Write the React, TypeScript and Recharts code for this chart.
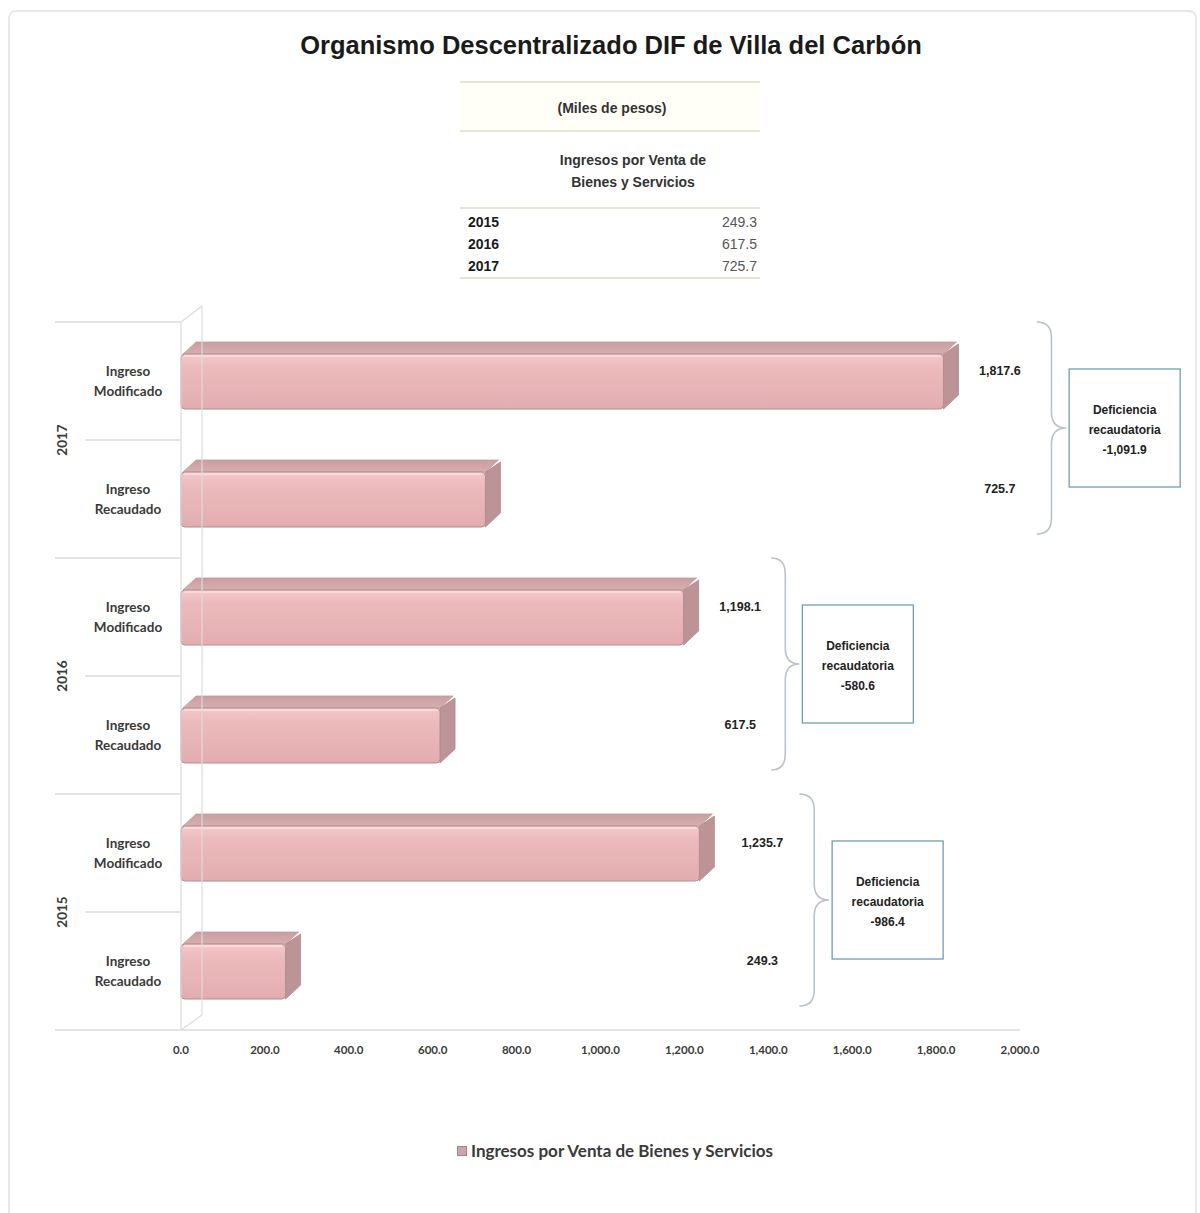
import { BarChart, Bar, XAxis, YAxis, LabelList, ReferenceArea, Legend } from "recharts";

// chart values
const CATEGORIES = ["2017-M", "2017-R", "2016-M", "2016-R", "2015-M", "2015-R"];
const YEARS = ["2017", "2017", "2016", "2016", "2015", "2015"];
const KINDS = ["Modificado", "Recaudado", "Modificado", "Recaudado", "Modificado", "Recaudado"];
const VALUES = [1817.6, 725.7, 1198.1, 617.5, 1235.7, 249.3];
// where each value label sits, in axis units
const LABEL_AT = [1952, 1952, 1333, 1333, 1386, 1386];

const GROUP_FIRST = ["2017-M", "2016-M", "2015-M"];
const GROUP_LAST = ["2017-R", "2016-R", "2015-R"];
const DEFICIENCIA = [-1091.9, -580.6, -986.4];
const BRACE_FROM = [2040, 1407, 1474];
const BRACE_TO = [2110, 1474, 1545];

const TABLE_YEARS = ["2015", "2016", "2017"];
const TABLE_VALUES = [249.3, 617.5, 725.7];

const X_TICKS = [0, 200, 400, 600, 800, 1000, 1200, 1400, 1600, 1800, 2000];

const SERIES_NAME = "Ingresos por Venta de Bienes y Servicios";

const data = CATEGORIES.map((key, i) => ({ key, year: YEARS[i], kind: KINDS[i], value: VALUES[i] }));

const W = 1200;
const H = 1213;
const PLOT_LEFT = 181;
const DEPTH_X = 15;
const DEPTH_Y = 12;
const NARROW = '"Liberation Sans Narrow", "Arial Narrow", "Liberation Sans", Arial, sans-serif';
const CALIBRI = 'Lato, "Open Sans", sans-serif';
const TEXT = "#3a3a3a";
const GRID = "#e4e4e4";

const fmt = (v: number) =>
  v.toLocaleString("en-US", { minimumFractionDigits: 1, maximumFractionDigits: 1 });

function Bar3D(props: any) {
  const { x, y, width, height, index } = props;
  if (!width || width <= 0) return null;
  const id = `bf${index}`;
  const r = 4;
  return (
    <g>
      <defs>
        <linearGradient id={id} x1="0" y1="0" x2="0" y2="1">
          <stop offset="0%" stopColor="#f4c9ca" />
          <stop offset="25%" stopColor="#ecbabc" />
          <stop offset="100%" stopColor="#e3adb0" />
        </linearGradient>
        <linearGradient id={`${id}t`} x1="0" y1="0" x2="0" y2="1">
          <stop offset="0%" stopColor="#c99ea1" />
          <stop offset="100%" stopColor="#d8aeb1" />
        </linearGradient>
      </defs>
      {/* top face */}
      <path
        d={`M${x + 2},${y} L${x + DEPTH_X},${y - DEPTH_Y} L${x + width + DEPTH_X - 2},${y - DEPTH_Y} L${x + width},${y} Z`}
        fill={`url(#${id}t)`}
        stroke="#c49a9d"
        strokeWidth={0.8}
      />
      {/* side face */}
      <path
        d={`M${x + width},${y} L${x + width + DEPTH_X},${y - DEPTH_Y + 2} L${x + width + DEPTH_X},${y + height - DEPTH_Y - 2} L${x + width},${y + height} Z`}
        fill="#bc9497"
        stroke="#b08a8d"
        strokeWidth={0.8}
      />
      <rect x={x} y={y} width={width} height={height} rx={r} ry={r} fill={`url(#${id})`} stroke="#b28c8f" strokeWidth={1} />
      <line x1={x + 3} y1={y + 2} x2={x + width - 3} y2={y + 2} stroke="#fbe0e0" strokeWidth={1.5} />
    </g>
  );
}

function CategoryTick(props: any) {
  const { y, payload } = props;
  const i = payload.index;
  const half = payload.offset || 59;
  const d = data[i];
  const top = y - half;
  const elems: any[] = [];
  elems.push(
    <line key="sep" x1={i % 2 === 0 ? 55 : 85} y1={top} x2={PLOT_LEFT} y2={top} stroke={GRID} strokeWidth={2} />
  );
  if (i === data.length - 1) {
    elems.push(<line key="sepb" x1={55} y1={y + half} x2={PLOT_LEFT} y2={y + half} stroke={GRID} strokeWidth={2} />);
  }
  if (i === 0) {
    const bottom = top + data.length * half * 2;
    elems.push(
      <polyline
        key="wall"
        points={`${PLOT_LEFT},${top} ${PLOT_LEFT + 21},${top - 16} ${PLOT_LEFT + 21},${bottom - 15} ${PLOT_LEFT},${bottom}`}
        fill="none"
        stroke="#dcdcdc"
        strokeWidth={1.2}
      />
    );
  }
  elems.push(
    <text key="l1" x={128} y={y - 10} textAnchor="middle" dominantBaseline="central" fontFamily={CALIBRI} fontWeight={700} fontSize={13.5} fill={TEXT}>
      Ingreso
    </text>,
    <text key="l2" x={128} y={y + 10} textAnchor="middle" dominantBaseline="central" fontFamily={CALIBRI} fontWeight={700} fontSize={13.5} fill={TEXT}>
      {d.kind}
    </text>
  );
  if (i % 2 === 0) {
    const cy = y + half;
    elems.push(
      <text key="yr" x={62} y={cy} transform={`rotate(-90 62 ${cy})`} textAnchor="middle" dominantBaseline="central" fontFamily={CALIBRI} fontWeight={700} fontSize={13.5} fill={TEXT}>
        {d.year}
      </text>
    );
  }
  return <g>{elems}</g>;
}

function ValueLabel(props: any) {
  const { x, y, width, height, value, index } = props;
  const px = x + (LABEL_AT[index] * width) / value;
  return (
    <text x={px} y={y + height / 2 - 11} textAnchor="middle" dominantBaseline="central" fontFamily={NARROW} fontWeight={700} fontSize={12.5} fill="#222">
      {fmt(value)}
    </text>
  );
}

function makeBrace(g: number) {
  return (props: any) => {
    const { x, y, width, height } = props;
    const top = y;
    const bottom = y + height - 24;
    const mid = (top + bottom) / 2;
    const xm = x + width * 0.5;
    const xt = x + width;
    const r = 16;
    const bx = xt + 3;
    const bw = 111;
    const bh = 118;
    return (
      <g>
        <path
          d={`M${x},${top} Q${xm},${top} ${xm},${top + r} L${xm},${mid - r} Q${xm},${mid} ${xt},${mid} Q${xm},${mid} ${xm},${mid + r} L${xm},${bottom - r} Q${xm},${bottom} ${x},${bottom}`}
          fill="none"
          stroke="#b9c3cc"
          strokeWidth={1.6}
        />
        <rect x={bx} y={mid - bh / 2} width={bw} height={bh} fill="#fff" stroke="#6f9fb2" strokeWidth={1.3} />
        {["Deficiencia", "recaudatoria", fmt(DEFICIENCIA[g])].map((t, k) => (
          <text key={k} x={bx + bw / 2} y={mid - 18 + k * 20} textAnchor="middle" dominantBaseline="central" fontFamily={NARROW} fontWeight={700} fontSize={12} fill="#222">
            {t}
          </text>
        ))}
      </g>
    );
  };
}

function LegendContent() {
  return (
    <div style={{ display: "flex", justifyContent: "center", alignItems: "center", height: 22, paddingLeft: 30 }}>
      <span style={{ display: "inline-block", width: 8, height: 8, background: "#cda4ac", border: "1px solid #a6838a", marginRight: 4 }} />
      <span style={{ fontFamily: CALIBRI, fontWeight: 700, fontSize: 17, color: TEXT, lineHeight: "22px" }}>{SERIES_NAME}</span>
    </div>
  );
}

const rule = (top: number) => (
  <div style={{ position: "absolute", left: 0, top, width: 300, height: 2, background: "#e3e6d3" }} />
);

export default function App() {
  return (
    <div style={{ position: "absolute", left: 0, top: 0, width: W, height: H, background: "#fff", overflow: "hidden" }}>
      <div style={{ position: "absolute", left: 8, top: 10, width: 1185, height: 1220, border: "2px solid #e8e8e8", borderRadius: 8 }} />
      <div style={{ position: "absolute", left: 0, top: 29, width: W, paddingLeft: 22, boxSizing: "border-box", textAlign: "center", fontFamily: '"Liberation Sans", Arial, sans-serif', fontWeight: 700, fontSize: 25.5, lineHeight: "32px", color: "#1a1a1a" }}>
        Organismo Descentralizado DIF de Villa del Carbón
      </div>
      <div style={{ position: "absolute", left: 0, top: 0, width: W, height: H }}>
        <BarChart
          width={W}
          height={H}
          data={data}
          layout="vertical"
          barSize={55}
          margin={{ top: 322, right: 180, bottom: 51, left: 0 }}
        >
          <YAxis
            type="category"
            dataKey="key"
            width={PLOT_LEFT}
            axisLine={{ stroke: "#dcdcdc", strokeWidth: 1.2 }}
            tickLine={false}
            tick={<CategoryTick />}
            interval={0}
          />
          <XAxis
            type="number"
            domain={[0, 2000]}
            ticks={X_TICKS}
            height={110}
            tickFormatter={fmt}
            axisLine={{ stroke: "#dcdcdc", strokeWidth: 1.5 }}
            tickLine={false}
            tickSize={0}
            tickMargin={16}
            tick={{ fontFamily: CALIBRI, fontWeight: 700, fontSize: 11.5, fill: TEXT }}
          />
          <Legend verticalAlign="bottom" content={<LegendContent />} wrapperStyle={{ left: 0, width: W }} />
          <Bar dataKey="value" name={SERIES_NAME} fill="#e8b3b5" shape={<Bar3D />} isAnimationActive={false}>
            <LabelList dataKey="value" content={<ValueLabel />} />
          </Bar>
          {GROUP_FIRST.map((first, g) => (
            <ReferenceArea
              key={first}
              y1={first}
              y2={GROUP_LAST[g]}
              x1={BRACE_FROM[g]}
              x2={BRACE_TO[g]}
              ifOverflow="visible"
              shape={makeBrace(g)}
            />
          ))}
        </BarChart>
      </div>
      <div style={{ position: "absolute", left: 460, top: 0, width: 300, height: 290, fontFamily: NARROW, color: "#333" }}>
        <div style={{ position: "absolute", left: 0, top: 83, width: 300, height: 48, background: "#fffff8" }} />
        {rule(81)}
        <div style={{ position: "absolute", left: 0, top: 97, width: 300, paddingLeft: 2, textAlign: "center", fontWeight: 700, fontSize: 14, lineHeight: "22px" }}>
          (Miles de pesos)
        </div>
        {rule(130)}
        <div style={{ position: "absolute", left: 46, top: 149, width: 254, textAlign: "center", fontWeight: 700, fontSize: 14, lineHeight: "22px" }}>
          Ingresos por Venta de
          <br />
          Bienes y Servicios
        </div>
        {rule(207)}
        {TABLE_YEARS.map((yr, i) => (
          <div key={yr} style={{ position: "absolute", left: 8, top: 211 + i * 22, width: 289, height: 22, lineHeight: "22px", fontSize: 14 }}>
            <span style={{ fontWeight: 700, color: "#1a1a1a" }}>{yr}</span>
            <span style={{ position: "absolute", right: 0, color: "#555" }}>{fmt(TABLE_VALUES[i])}</span>
          </div>
        ))}
        {rule(277)}
      </div>
    </div>
  );
}
